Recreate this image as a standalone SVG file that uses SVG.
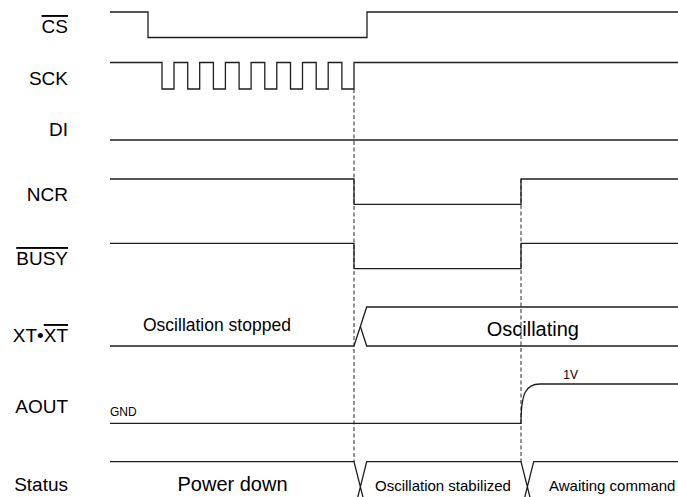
<svg xmlns="http://www.w3.org/2000/svg" width="678" height="497" viewBox="0 0 678 497">
  <style>
    .wave { fill: none; stroke: #1e1e1e; stroke-width: 1.3; stroke-linejoin: miter; }
    .guide { fill: none; stroke: #2a2a2a; stroke-width: 1; stroke-dasharray: 4 2.5; }
    .lbl { font-family: "Liberation Sans", Arial, sans-serif; font-size: 19px; fill: #000; text-anchor: end; }
    .txt { font-family: "Liberation Sans", Arial, sans-serif; fill: #000; }
    .ov { text-decoration: overline; }
  </style>
  <rect width="678" height="497" fill="#fff"/>

  <!-- timing reference lines -->
  <g id="connectors">
    <line class="guide" x1="354" y1="89" x2="354" y2="462"/>
    <line class="guide" x1="521" y1="179" x2="521" y2="462"/>
  </g>

  <g id="sig-cs">
    <text class="lbl" x="68" y="33"><tspan class="ov">CS</tspan></text>
    <path class="wave" d="M110,12 H148 V37.5 H367 V12 H678"/>
  </g>

  <g id="sig-sck">
    <text class="lbl" x="68" y="85">SCK</text>
    <path class="wave" d="M110,62.5 H162 V89 H174 V62.5 H187.7 V89 H199.7 V62.5 H213.4 V89 H225.4 V62.5 H239.1 V89 H251.1 V62.5 H264.8 V89 H276.8 V62.5 H290.5 V89 H302.5 V62.5 H316.2 V89 H328.2 V62.5 H341.9 V89 H354 V62.5 H678"/>
  </g>

  <g id="sig-di">
    <text class="lbl" x="68" y="136">DI</text>
    <path class="wave" d="M110,140 H678"/>
  </g>

  <g id="sig-ncr">
    <text class="lbl" x="68" y="201">NCR</text>
    <path class="wave" d="M110,179 H354 V204.3 H521 V179 H678"/>
  </g>

  <g id="sig-busy">
    <text class="lbl" x="68" y="265"><tspan class="ov">BUSY</tspan></text>
    <path class="wave" d="M110,243.3 H354 V268.7 H521 V243.3 H678"/>
  </g>

  <g id="sig-xt">
    <text class="lbl" x="68" y="342">XT•<tspan class="ov">XT</tspan></text>
    <path class="wave" d="M110,346 H354 L366.7,307 H678"/>
    <path class="wave" d="M360.35,326.5 L366.7,346 H678"/>
    <text class="txt" x="143" y="331" font-size="17.5">Oscillation stopped</text>
    <text class="txt" x="486.7" y="336" font-size="20">Oscillating</text>
  </g>

  <g id="sig-aout">
    <text class="lbl" x="68" y="413">AOUT</text>
    <path class="wave" d="M110,423.3 H521 C521,393 526,384 540,384 H678"/>
    <text class="txt" x="110" y="416" font-size="12">GND</text>
    <text class="txt" x="563.3" y="378.5" font-size="12">1V</text>
  </g>

  <g id="sig-status">
    <text class="lbl" x="68" y="491">Status</text>
    <path class="wave" d="M110,461.7 H354 L366.7,512 M354,512 L366.7,461.7 H521 L533.7,512 M521,512 L533.7,461.7 H678"/>
    <text class="txt" x="232.5" y="491" font-size="20" text-anchor="middle">Power down</text>
    <text class="txt" x="375" y="491" font-size="15">Oscillation stabilized</text>
    <text class="txt" x="549" y="491" font-size="15">Awaiting command</text>
  </g>
</svg>
